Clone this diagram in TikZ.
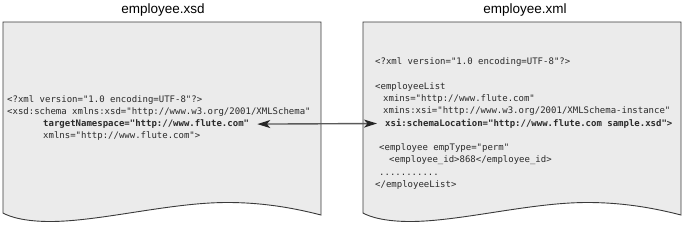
\documentclass[tikz,border=0pt]{standalone}
\usepackage{fontspec}
\setmainfont{Liberation Sans}
\newfontfamily\codefont{DejaVu Sans Mono}
\usetikzlibrary{arrows.meta}
\definecolor{paper}{HTML}{EBEBEB}
\definecolor{edge}{HTML}{3A3A3A}
\definecolor{codecol}{HTML}{2A2A2A}
\definecolor{arrowline}{HTML}{5A5A5A}
\tikzset{
  docsheet/.style={draw=edge, line width=0.9pt, fill=paper},
  codeline/.style={anchor=base west, inner sep=0pt, text=codecol,
    font=\codefont\fontsize{9}{11}\selectfont, text height=7pt, text depth=2pt},
  codebold/.style={codeline, font=\codefont\bfseries\fontsize{9}{11}\selectfont},
  doctitle/.style={inner sep=0pt, font=\fontsize{13.5}{15}\selectfont, text=black},
  linkarrow/.style={draw=arrowline, line width=1.4pt,
    arrows={Stealth[length=13pt,width=8pt,inset=3.5pt,color=black!85]-Stealth[length=13pt,width=8pt,inset=3.5pt,color=black!85]}}
}
\begin{document}
\begin{tikzpicture}[x=1pt,y=-1pt]
\useasboundingbox (0,0) rectangle (684,225);
% sheets
\path[docsheet] (3,22) -- (321,22) -- (321,215)
  .. controls (290,207) and (260,202.5) .. (227,202.5)
  .. controls (170,202.5) and (100,221.5) .. (50,221.5)
  .. controls (25,221.5) and (10,217) .. (3,213) -- cycle;
\path[docsheet] (363,22) -- (681,22) -- (681,215)
  .. controls (650,207) and (620,202.5) .. (587,202.5)
  .. controls (530,202.5) and (460,221.5) .. (410,221.5)
  .. controls (385,221.5) and (370,217) .. (363,213) -- cycle;
% titles
\node[doctitle] (t1) at (163,10) {employee.xsd};
\node[doctitle] (t2) at (525,10) {employee.xml};
% left code
\node[codeline] (l1) at (7,102) {<?xml version="1.0 encoding=UTF-8"?>};
\node[codeline] (l2) at (7,114.3) {<xsd:schema xmlns:xsd="http://www.w3.org/2001/XMLSchema"};
\node[codebold] (tns) at (43,126.6) {targetNamespace="http://www.flute.com"};
\node[codeline] (l4) at (43,138.9) {xmlns="http://www.flute.com">};
% right code
\node[codeline] (r1) at (375,64.5) {<?xml version="1.0 encoding=UTF-8"?>};
\node[codeline] (r2) at (375,89.1) {<employeeList};
\node[codeline] (r3) at (383,101.4) {xmins="http://www.flute.com"};
\node[codeline] (r4) at (383,113.7) {xmins:xsi="http://www.w3.org/2001/XMLSchema-instance"};
\node[codebold] (xsi) at (385,126) {xsi:schemaLocation="http://www.flute.com sample.xsd">};
\node[codeline] (r6) at (379,150.6) {<employee empType="perm"};
\node[codeline] (r7) at (389,162.9) {<employee\_id>868</employee\_id>};
\node[codeline] (r8) at (379,175.2) {...........};
\node[codeline] (r9) at (375,187.5) {</employeeList>};
% link
\draw[linkarrow] ([xshift=8pt]tns.east) -- ([xshift=-8pt]xsi.west);
\end{tikzpicture}
\end{document}
